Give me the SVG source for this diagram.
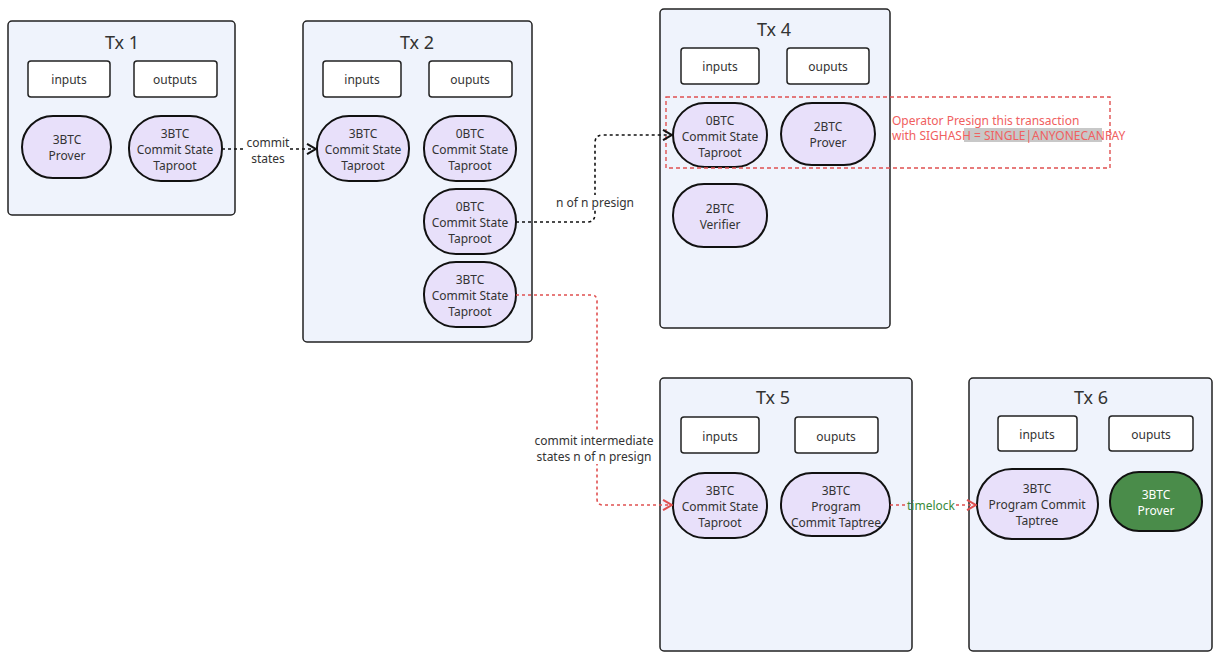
<svg xmlns="http://www.w3.org/2000/svg" width="1221" height="658" viewBox="0 0 1221 658">
<style>
text{font-family:"Noto Sans","Open Sans",sans-serif;font-size:12px;fill:#333;text-anchor:middle;dominant-baseline:central}
.tx{fill:#eff3fc;stroke:#222;stroke-width:1.5}
.t{font-size:18px}
.box{fill:#fff;stroke:#222;stroke-width:1.5}
.el{fill:#e8e0fa;stroke:#111;stroke-width:2}
.c{fill:none;stroke-width:1.6;stroke-dasharray:3 3}
</style>
<defs>
<marker id="ak" viewBox="0 0 10 10" refX="9" refY="5" markerWidth="8" markerHeight="8" orient="auto"><path d="M2 1L9 5L2 9" fill="none" stroke="#111" stroke-width="1.6"/></marker>
<marker id="ar" viewBox="0 0 10 10" refX="9" refY="5" markerWidth="8" markerHeight="8" orient="auto"><path d="M2 1L9 5L2 9" fill="none" stroke="#e05050" stroke-width="1.6"/></marker>
</defs>
<rect x="0" y="0" width="1221" height="658" fill="#fff"/>
<g id="tx1">
<rect class="tx" x="8" y="21" width="227" height="194" rx="4"/>
<text class="t" x="122" y="42">Tx 1</text>
<rect class="box" x="28" y="61" width="82" height="36" rx="3"/><text x="69" y="79">inputs</text>
<rect class="box" x="134" y="61" width="83" height="36" rx="3"/><text x="175" y="79">outputs</text>
<rect class="el" x="22" y="116" width="89" height="62" rx="31"/><text x="67" y="139">3BTC</text><text x="67" y="155">Prover</text>
<rect class="el" x="129" y="116" width="93" height="65" rx="32"/><text x="175" y="133">3BTC</text><text x="175" y="149">Commit State</text><text x="175" y="165">Taproot</text>
</g>
<g id="tx2">
<rect class="tx" x="303" y="21" width="229" height="321" rx="4"/>
<text class="t" x="417" y="42">Tx 2</text>
<rect class="box" x="323" y="61" width="78" height="36" rx="3"/><text x="362" y="79">inputs</text>
<rect class="box" x="429" y="61" width="83" height="36" rx="3"/><text x="470" y="79">ouputs</text>
<rect class="el" x="317" y="116" width="92" height="65" rx="32"/><text x="363" y="133">3BTC</text><text x="363" y="149">Commit State</text><text x="363" y="165">Taproot</text>
<rect class="el" x="424" y="116" width="92" height="65" rx="32"/><text x="470" y="133">0BTC</text><text x="470" y="149">Commit State</text><text x="470" y="165">Taproot</text>
<rect class="el" x="424" y="189" width="92" height="65" rx="32"/><text x="470" y="206">0BTC</text><text x="470" y="222">Commit State</text><text x="470" y="238">Taproot</text>
<rect class="el" x="424" y="262" width="92" height="65" rx="32"/><text x="470" y="279">3BTC</text><text x="470" y="295">Commit State</text><text x="470" y="311">Taproot</text>
</g>
<g id="tx4">
<rect class="tx" x="660" y="9" width="230" height="319" rx="4"/>
<text class="t" x="774" y="29">Tx 4</text>
<rect class="box" x="681" y="48" width="78" height="36" rx="3"/><text x="720" y="66">inputs</text>
<rect class="box" x="787" y="48" width="82" height="36" rx="3"/><text x="828" y="66">ouputs</text>
<rect class="el" x="673" y="103" width="94" height="64" rx="32"/><text x="720" y="120">0BTC</text><text x="720" y="136">Commit State</text><text x="720" y="152">Taproot</text>
<rect class="el" x="781" y="103" width="94" height="62" rx="31"/><text x="828" y="126">2BTC</text><text x="828" y="142">Prover</text>
<rect class="el" x="673" y="184" width="94" height="63" rx="31"/><text x="720" y="208">2BTC</text><text x="720" y="224">Verifier</text>
</g>
<g id="presign">
<rect x="666" y="97" width="444" height="71" fill="none" stroke="#e05050" stroke-width="1.4" stroke-dasharray="4 3"/>
<rect x="964" y="128" width="138" height="14" fill="#c8c8c8"/>
<text x="892" y="120" style="text-anchor:start;fill:#f06060">Operator Presign this transaction</text>
<text x="892" y="135" style="text-anchor:start;fill:#f06060">with SIGHASH  = SINGLE|ANYONECANPAY</text>
</g>
<g id="tx5">
<rect class="tx" x="660" y="378" width="252" height="273" rx="4"/>
<text class="t" x="773" y="397">Tx 5</text>
<rect class="box" x="681" y="417" width="78" height="36" rx="3"/><text x="720" y="436">inputs</text>
<rect class="box" x="795" y="417" width="83" height="36" rx="3"/><text x="836" y="436">ouputs</text>
<rect class="el" x="673" y="473" width="94" height="65" rx="32"/><text x="720" y="490">3BTC</text><text x="720" y="506">Commit State</text><text x="720" y="522">Taproot</text>
<rect class="el" x="781" y="473" width="109" height="63" rx="31"/><text x="836" y="490">3BTC</text><text x="836" y="506">Program</text><text x="836" y="522">Commit Taptree</text>
</g>
<g id="tx6">
<rect class="tx" x="969" y="378" width="243" height="273" rx="4"/>
<text class="t" x="1091" y="397">Tx 6</text>
<rect class="box" x="998" y="416" width="79" height="35" rx="3"/><text x="1037" y="434">inputs</text>
<rect class="box" x="1109" y="416" width="84" height="35" rx="3"/><text x="1151" y="434">ouputs</text>
<rect class="el" x="977" y="469" width="121" height="70" rx="35"/><text x="1037" y="488">3BTC</text><text x="1037" y="504">Program Commit</text><text x="1037" y="520">Taptree</text>
<rect x="1110" y="472" width="92" height="59" rx="29" fill="#4a8c4a" stroke="#111" stroke-width="2"/><text x="1156" y="494" style="fill:#fff">3BTC</text><text x="1156" y="510" style="fill:#fff">Prover</text>
</g>
<g id="connectors">
<path class="c" d="M222 149H246M290 149H316" stroke="#111" marker-end="url(#ak)"/>
<text x="268" y="142">commit</text><text x="268" y="158">states</text>
<path class="c" d="M516 222H587Q595 222 595 214V143Q595 135 603 135H672" stroke="#111" marker-end="url(#ak)"/>
<rect x="558" y="195" width="74" height="14" fill="#fff"/>
<text x="595" y="202">n of n presign</text>
<path class="c" d="M516 295H591Q597 295 597 301V499Q597 505 603 505H672" stroke="#e05050" marker-end="url(#ar)"/>
<rect x="537" y="432" width="114" height="32" fill="#fff"/>
<text x="594" y="440">commit intermediate</text><text x="594" y="456">states n of n presign</text>
<path class="c" d="M890 505H906M956 505H976" stroke="#e05050" marker-end="url(#ar)"/>
<text x="931" y="505" style="fill:#3a8a3a">timelock</text>
</g>
</svg>
